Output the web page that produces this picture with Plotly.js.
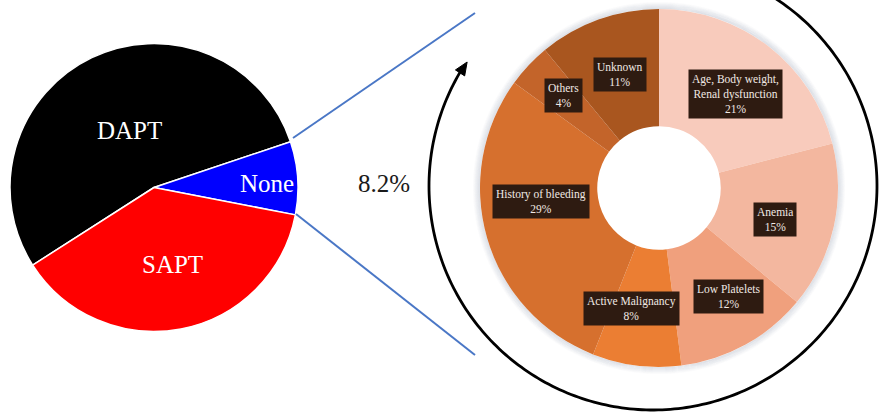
<!DOCTYPE html>
<html>
<head>
<meta charset="utf-8">
<script src="https://cdn.plot.ly/plotly-3.0.1.min.js"></script>
<style>
  html, body { margin: 0; padding: 0; background: #ffffff; }
  #chart { width: 879px; height: 413px; }
</style>
</head>
<body>
<div id="chart"></div>
<script>
// Antiplatelet therapy at discharge
const therapyLabels = ['DAPT', 'None', 'SAPT'];
const therapyValues = [53.9, 8.2, 37.9];

// Reasons for no antiplatelet therapy (% of "None")
const reasonLabels = [
  'Age, Body weight,<br>Renal dysfunction',
  'Anemia',
  'Low Platelets',
  'Active Malignancy',
  'History of bleeding',
  'Others',
  'Unknown'
];
const reasonValues = [21, 15, 12, 8, 29, 4, 11];

// ---- styling / layout ----
const W = 879, H = 413;
const serif = "'Liberation Serif', 'Times New Roman', serif";
const therapyColors = ['#000000', '#0000ff', '#ff0000'];
const reasonColors = ['#f8cbbc', '#f3b79f', '#f0a07d', '#eb7e33', '#d6702e', '#c3642a', '#a9561f'];

// pixel geometry of the two rings
const pieC = { x: 154, y: 187.5, r: 144 };
const donutC = { x: 659, y: 188, r: 179 };
const ringC = { x: 653, y: 186, r: 224 };

// callout box centres for the donut labels (pixels)
const calloutXY = [[735, 94], [775, 219], [728, 296], [631, 308], [541, 201], [563, 95], [620, 74]];
// label centres on the left pie (pixels)
const therapyTextXY = [[129, 130], [267, 183], [172, 264]];

function domainOf(c) {
  return {
    x: [(c.x - c.r) / W, (c.x + c.r) / W],
    y: [1 - (c.y + c.r) / H, 1 - (c.y - c.r) / H]
  };
}

// left pie: DAPT starts on its lower-left edge and runs clockwise
const therapyTrace = {
  type: 'pie',
  labels: therapyLabels,
  values: therapyValues,
  sort: false,
  direction: 'clockwise',
  rotation: -122.6,
  textinfo: 'none',
  hoverinfo: 'label+value',
  marker: { colors: therapyColors, line: { color: '#ffffff', width: 1.5 } },
  domain: domainOf(pieC),
  showlegend: false
};

const reasonTrace = {
  type: 'pie',
  labels: reasonLabels,
  values: reasonValues,
  hole: 0.345,
  sort: false,
  direction: 'clockwise',
  rotation: 0,
  textinfo: 'none',
  hoverinfo: 'label+percent',
  marker: { colors: reasonColors, line: { width: 0 } },
  domain: domainOf(donutC),
  showlegend: false
};

// circle / arc helpers in pixel space (axes map 1:1 to pixels)
function arcPath(c, r, a0, a1, n) {
  let d = '';
  for (let i = 0; i <= n; i++) {
    const a = (a0 + (a1 - a0) * i / n) * Math.PI / 180;
    const x = c.x + r * Math.cos(a);
    const y = c.y - r * Math.sin(a);
    d += (i === 0 ? 'M' : 'L') + x.toFixed(2) + ',' + y.toFixed(2);
  }
  return d;
}

const shapes = [];

// soft halo just outside the donut rim
for (let k = 1; k <= 7; k++) {
  shapes.push({
    type: 'path', xref: 'x', yref: 'y', layer: 'below',
    path: arcPath(donutC, donutC.r + k - 0.5, 0, 360, 180) + 'Z',
    fillcolor: 'rgba(0,0,0,0)',
    line: { color: 'rgba(150,160,178,' + (0.32 - 0.04 * k).toFixed(2) + ')', width: 1.2 }
  });
}

// connectors from the "None" slice to the donut
const connColor = '#4a77c6';
shapes.push({ type: 'line', xref: 'x', yref: 'y', x0: 293, y0: 138, x1: 475, y1: 13,
  line: { color: connColor, width: 2 } });
shapes.push({ type: 'line', xref: 'x', yref: 'y', x0: 296, y0: 214, x1: 475, y1: 355,
  line: { color: connColor, width: 2 } });

// big circular arrow around the donut
const tipAngle = 147;
shapes.push({
  type: 'path', xref: 'x', yref: 'y', layer: 'above',
  path: arcPath(ringC, ringC.r, tipAngle + 2, 460, 300),
  line: { color: '#000000', width: 2.8 }
});
(function () {
  const a = tipAngle * Math.PI / 180;
  const tip = { x: ringC.x + ringC.r * Math.cos(a) + 2, y: ringC.y - ringC.r * Math.sin(a) - 2 };
  const dir = { x: Math.sin(a), y: Math.cos(a) };
  const nrm = { x: -dir.y, y: dir.x };
  const L = 13, hw = 5.5;
  const bx = tip.x - L * dir.x, by = tip.y - L * dir.y;
  shapes.push({
    type: 'path', xref: 'x', yref: 'y', layer: 'above',
    path: 'M' + tip.x + ',' + tip.y +
          'L' + (bx + hw * nrm.x) + ',' + (by + hw * nrm.y) +
          'L' + (bx - hw * nrm.x) + ',' + (by - hw * nrm.y) + 'Z',
    fillcolor: '#000000', line: { color: '#000000', width: 1 }
  });
})();

const annotations = [];

therapyLabels.forEach((lab, i) => {
  annotations.push({
    xref: 'x', yref: 'y', x: therapyTextXY[i][0], y: therapyTextXY[i][1],
    text: lab, showarrow: false,
    font: { family: serif, size: 25, color: '#ffffff' }
  });
});

annotations.push({
  xref: 'x', yref: 'y', x: 384, y: 183,
  text: therapyValues[1].toFixed(1) + '%', showarrow: false,
  font: { family: serif, size: 25, color: '#1a1a1a' }
});

reasonLabels.forEach((lab, i) => {
  annotations.push({
    xref: 'x', yref: 'y', x: calloutXY[i][0], y: calloutXY[i][1],
    text: lab + '<br>' + reasonValues[i] + '%', showarrow: false,
    font: { family: serif, size: 11.5, color: '#f1e9e4' },
    bgcolor: '#2e1b11', borderpad: 3, align: 'center'
  });
});

const layout = {
  width: W, height: H,
  margin: { l: 0, r: 0, t: 0, b: 0 },
  paper_bgcolor: '#ffffff',
  plot_bgcolor: 'rgba(0,0,0,0)',
  xaxis: { range: [0, W], visible: false, fixedrange: true },
  yaxis: { range: [H, 0], visible: false, fixedrange: true },
  shapes: shapes,
  annotations: annotations,
  showlegend: false
};

// invisible scatter so the pixel axes exist
const frame = { type: 'scatter', x: [0, W], y: [0, H], mode: 'markers',
  marker: { opacity: 0 }, hoverinfo: 'skip', showlegend: false };

Plotly.newPlot('chart', [frame, therapyTrace, reasonTrace], layout, { displayModeBar: false, staticPlot: true });
</script>
</body>
</html>
